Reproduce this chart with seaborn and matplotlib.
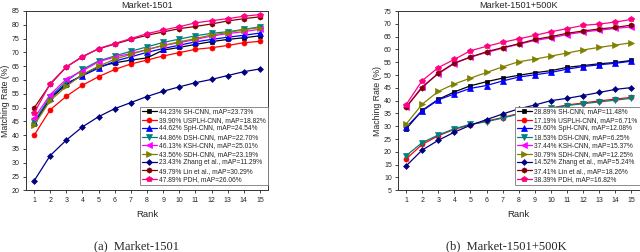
import matplotlib
matplotlib.use("Agg")
import matplotlib.pyplot as plt
import seaborn as sns

# Data
ranks = list(range(1, 16))

methods = ["SH-CNN", "USPLH-CNN", "SpH-CNN", "DSH-CNN", "KSH-CNN",
           "SDH-CNN", "Zhang et al.", "Lin et al.", "PDH"]

# Market-1501
m_rank1 = ["44.23%", "39.90%", "44.62%", "44.86%", "46.13%", "43.56%", "23.43%", "49.79%", "47.89%"]
m_map = ["23.73%", "18.82%", "24.54%", "22.70%", "25.01%", "23.19%", "11.29%", "30.29%", "26.06%"]
m_sh = [44.2, 53.3, 58.3, 61.8, 64.8, 66.2, 67.2, 68.0, 70.8, 71.8, 72.9, 73.9, 74.7, 75.3, 76.0]
m_usplh = [39.9, 49.2, 54.1, 58.1, 61.2, 63.8, 65.8, 67.2, 68.7, 69.9, 71.1, 71.7, 72.5, 73.5, 74.0]
m_sph = [44.6, 53.6, 58.8, 61.5, 64.3, 66.8, 68.4, 70.0, 71.4, 72.6, 73.8, 74.7, 75.5, 76.2, 77.0]
m_dsh = [44.9, 54.0, 59.5, 63.8, 66.9, 68.7, 70.4, 72.0, 73.6, 74.8, 76.0, 76.9, 77.5, 78.3, 79.3]
m_ksh = [46.1, 54.7, 60.3, 63.3, 66.6, 68.3, 69.6, 71.0, 72.5, 73.5, 74.7, 75.9, 76.8, 77.5, 78.4]
m_sdh = [43.6, 52.5, 57.7, 62.0, 65.0, 67.5, 69.3, 71.0, 72.5, 73.8, 75.0, 76.3, 77.2, 78.2, 79.0]
m_zhang = [23.4, 32.6, 38.2, 43.0, 46.7, 49.6, 51.8, 54.0, 55.9, 57.5, 59.0, 60.2, 61.6, 63.0, 64.0]
m_lin = [49.8, 58.4, 64.7, 68.5, 71.3, 73.0, 74.7, 76.2, 77.4, 78.6, 79.4, 80.3, 81.4, 82.2, 82.9]
m_pdh = [47.9, 58.7, 64.8, 68.3, 71.4, 73.2, 75.0, 76.8, 78.1, 79.3, 80.7, 81.5, 82.2, 83.1, 83.7]

# Market-1501+500K
b_rank1 = ["28.89%", "17.19%", "29.60%", "18.53%", "37.44%", "30.79%", "14.52%", "37.41%", "38.39%"]
b_map = ["11.48%", "6.71%", "12.08%", "6.25%", "15.37%", "12.25%", "5.24%", "18.26%", "16.82%"]
b_sh = [28.9, 36.2, 40.5, 43.4, 45.8, 47.4, 48.8, 49.9, 50.9, 51.7, 53.0, 53.7, 54.4, 54.9, 55.7]
b_usplh = [17.2, 22.9, 26.3, 28.8, 30.6, 32.0, 33.4, 35.0, 36.3, 37.1, 38.3, 39.1, 39.9, 40.6, 41.3]
b_sph = [29.6, 36.0, 40.3, 42.6, 44.8, 45.9, 47.7, 49.2, 50.1, 51.0, 52.3, 53.3, 54.0, 54.6, 55.4]
b_dsh = [18.5, 23.6, 26.6, 29.0, 30.8, 31.8, 33.2, 34.8, 36.2, 37.0, 38.1, 38.8, 39.5, 40.2, 40.9]
b_ksh = [37.4, 45.5, 50.5, 54.5, 57.0, 58.8, 60.5, 62.0, 63.5, 64.5, 65.8, 66.8, 67.5, 68.2, 68.8]
b_sdh = [30.8, 38.6, 43.6, 46.5, 48.8, 51.0, 53.2, 55.2, 56.2, 57.4, 58.6, 59.8, 60.8, 61.7, 62.6]
b_zhang = [14.5, 20.7, 24.5, 27.7, 30.4, 32.6, 34.8, 36.8, 38.3, 40.0, 40.9, 42.0, 43.2, 44.4, 45.1]
b_lin = [37.4, 45.1, 50.7, 54.7, 57.0, 59.1, 60.7, 62.2, 63.9, 65.0, 66.3, 67.2, 68.0, 68.6, 69.5]
b_pdh = [38.4, 47.8, 52.9, 56.1, 59.5, 61.2, 62.8, 64.1, 65.5, 66.9, 68.1, 69.4, 69.9, 70.7, 71.7]

colors = ["#000000", "#FF0000", "#0000FF", "#008080", "#FF00FF",
          "#808000", "#000080", "#800000", "#FF0080"]
markers = ["s", "o", "^", "v", "<", ">", "D", "h", "p"]
msizes = [3.4, 3.6, 3.8, 3.8, 3.8, 3.8, 3.0, 3.8, 3.8]

sns.set_theme(style="ticks")
plt.rcParams["font.family"] = ["Liberation Sans", "DejaVu Sans"]

fig = plt.figure(figsize=(6.4, 2.52), dpi=100)
ax1 = fig.add_axes([26 / 640, 61.7 / 252, 242 / 640, 179.3 / 252])
ax2 = fig.add_axes([398 / 640, 61.7 / 252, 241.5 / 640, 179.3 / 252])

panels = [
    (ax1, [m_sh, m_usplh, m_sph, m_dsh, m_ksh, m_sdh, m_zhang, m_lin, m_pdh],
     m_rank1, m_map, "Market-1501", "Matching Rate (%)", (20, 85), range(20, 86, 5)),
    (ax2, [b_sh, b_usplh, b_sph, b_dsh, b_ksh, b_sdh, b_zhang, b_lin, b_pdh],
     b_rank1, b_map, "Market-1501+500K", "Maching Rate (%)", (5, 75), range(5, 76, 5)),
]

for ax, series, r1, maps, title, ylabel, ylim, yticks in panels:
    for i, vals in enumerate(series):
        label = f"{r1[i]} {methods[i]}, mAP={maps[i]}"
        sns.lineplot(x=ranks, y=vals, ax=ax, color=colors[i], marker=markers[i],
                     markersize=msizes[i], markeredgecolor=colors[i], markeredgewidth=0.5,
                     linewidth=0.9, label=label)
    ax.set_xlim(0.5, 15.5)
    ax.set_ylim(*ylim)
    ax.set_xticks(ranks)
    ax.set_yticks(list(yticks))
    ax.tick_params(axis="both", labelsize=5, length=2, width=0.6, pad=2.5, direction="out")
    for s in ax.spines.values():
        s.set_linewidth(0.7)
        s.set_color("#333333")
    ax.set_xlabel("Rank", fontsize=6.8, labelpad=5)
    ax.set_ylabel(ylabel, fontsize=6.3, labelpad=1)
    ax.set_title(title, fontsize=6.6, pad=2)
    leg = ax.legend(loc="lower right", bbox_to_anchor=(1.0, 0.028), fontsize=4.8,
                    frameon=True, fancybox=False, framealpha=1, edgecolor="#777777",
                    handlelength=2.2, handletextpad=0.4, labelspacing=0.22,
                    borderpad=0.3, borderaxespad=0)
    leg.get_frame().set_linewidth(0.6)

fig.text(137 / 640, 1 - 246 / 252, "(a)  Market-1501", ha="center", va="center",
         fontsize=9, family=["Liberation Serif", "DejaVu Serif"])
fig.text(506 / 640, 1 - 246 / 252, "(b)  Market-1501+500K", ha="center", va="center",
         fontsize=9, family=["Liberation Serif", "DejaVu Serif"])

fig.savefig("out.png", dpi=100)
